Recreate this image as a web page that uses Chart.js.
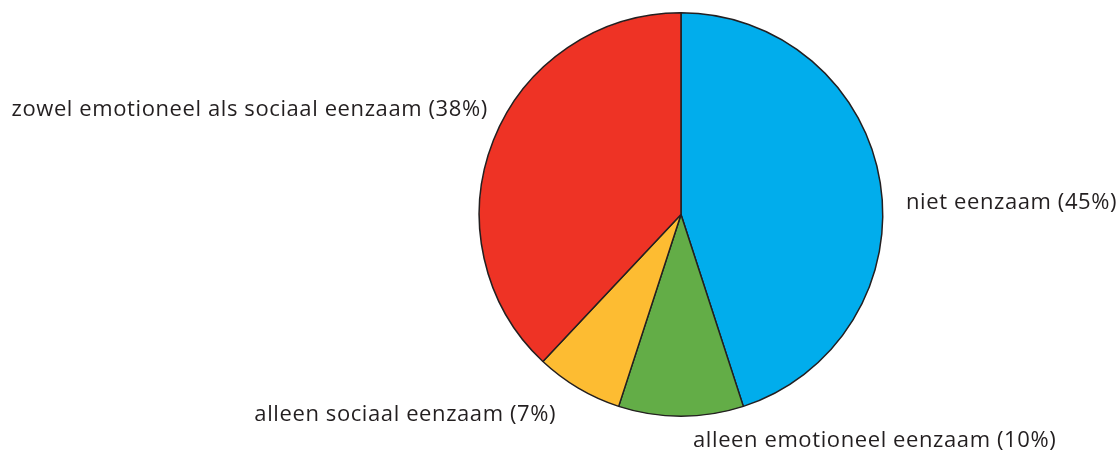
<!DOCTYPE html>
<html>
<head>
<meta charset="utf-8">
<script src="https://cdn.jsdelivr.net/npm/chart.js@4"></script>
<style>
  html, body { margin: 0; padding: 0; background: #fff; }
  #wrap { width: 1120px; height: 456px; position: relative; }
</style>
</head>
<body>
<div id="wrap"><canvas id="pie-chart"></canvas></div>
<script>
// data
const categories = [
    'niet eenzaam',
    'alleen emotioneel eenzaam',
    'alleen sociaal eenzaam',
    'zowel emotioneel als sociaal eenzaam'
];
const percentages = [45, 10, 7, 38];
const sliceColors = ['#01adec', '#63ad47', '#fdbc32', '#ee3325'];

// labels next to slices, anchored on the slice middle angle
const sliceLabels = {
    id: 'sliceLabels',
    afterDatasetsDraw(chart, args, opts) {
        const ctx = chart.ctx;
        const meta = chart.getDatasetMeta(0);
        ctx.save();
        ctx.font = opts.font;
        ctx.fillStyle = opts.color;
        ctx.textBaseline = 'alphabetic';
        if ('letterSpacing' in ctx) ctx.letterSpacing = opts.letterSpacing;
        meta.data.forEach(function(arc, i) {
            const p = arc.getProps(['x', 'y', 'startAngle', 'endAngle', 'outerRadius'], true);
            const mid = (p.startAngle + p.endAngle) / 2;
            const r = p.outerRadius + opts.gap;
            const shift = opts.shift[i];
            const x = p.x + Math.cos(mid) * r + shift[0];
            const y = p.y + Math.sin(mid) * r + shift[1];
            ctx.textAlign = Math.cos(mid) < -0.1 ? 'right' : 'left';
            ctx.fillText(categories[i] + ' (' + percentages[i] + '%)', x, y);
        });
        ctx.restore();
    }
};

const chart = new Chart(document.getElementById('pie-chart'), {
    type: 'pie',
    data: {
        labels: categories,
        datasets: [{
            data: percentages,
            backgroundColor: sliceColors,
            borderColor: '#231f20',
            borderWidth: 1.5
        }]
    },
    options: {
        responsive: true,
        maintainAspectRatio: false,
        animation: false,
        layout: {
            padding: { left: 400, right: 158, top: 12, bottom: 39 }
        },
        plugins: {
            legend: { display: false },
            tooltip: { enabled: false },
            sliceLabels: {
                font: '22px "Open Sans"',
                letterSpacing: '0.6px',
                color: '#231f20',
                gap: 20,
                shift: [[6, 29], [12, 11], [-12, 16], [13, -17]]
            }
        }
    },
    plugins: [sliceLabels]
});
</script>
</body>
</html>
